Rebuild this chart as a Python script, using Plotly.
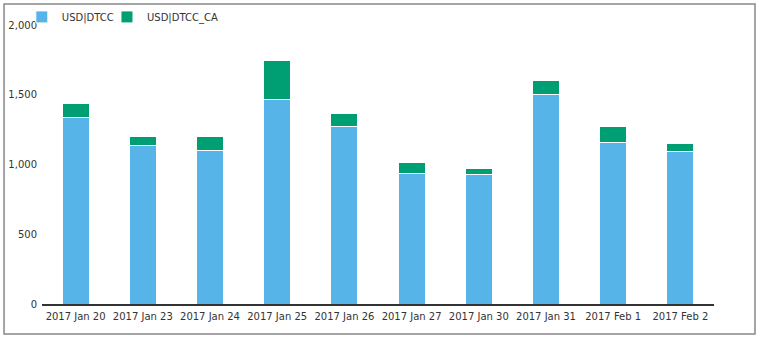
import plotly.graph_objects as go

categories = ["2017 Jan 20", "2017 Jan 23", "2017 Jan 24", "2017 Jan 25", "2017 Jan 26",
              "2017 Jan 27", "2017 Jan 30", "2017 Jan 31", "2017 Feb 1", "2017 Feb 2"]
usd_dtcc = [1335, 1135, 1099, 1465, 1271, 932, 925, 1500, 1159, 1095]
usd_dtcc_ca = [99, 69, 105, 277, 98, 79, 43, 99, 110, 59]
y_ticks = [0, 500, 1000, 1500, 2000]

font = dict(family="DejaVu Sans, Verdana, sans-serif", size=10, color="#333333")

fig = go.Figure()
fig.add_trace(go.Bar(name="USD|DTCC", x=categories, y=usd_dtcc, legend="legend",
                     marker=dict(color="#56B4E9", line=dict(color="white", width=1))))
fig.add_trace(go.Bar(name="USD|DTCC_CA", x=categories, y=usd_dtcc_ca, legend="legend2",
                     marker=dict(color="#009E73", line=dict(color="white", width=1))))

leg_common = dict(orientation="h", xanchor="left", y=0.977, yanchor="bottom",
                  font=font, itemwidth=30, bgcolor="rgba(0,0,0,0)")

fig.update_layout(
    barmode="stack",
    bargap=0.6,
    width=760, height=339,
    margin=dict(l=42, r=46, t=25, b=35, autoexpand=False),
    paper_bgcolor="white", plot_bgcolor="white",
    font=font,
    showlegend=True,
    legend=dict(x=-0.03, **leg_common),
    legend2=dict(x=0.0967, **leg_common),
    xaxis=dict(showgrid=False, showline=True, linecolor="#333333", linewidth=1.5,
               ticks="", tickfont=font, ticklabelstandoff=2),
    yaxis=dict(showgrid=False, showline=False, zeroline=False, range=[0, 2000],
               tickvals=y_ticks, tickformat=",", ticks="", tickfont=font, ticklabelstandoff=4),
    shapes=[dict(type="rect", xref="paper", yref="paper",
                 x0=-0.0565, x1=1.061, y0=-0.1075, y1=1.075,
                 line=dict(color="#888888", width=1.5), fillcolor="rgba(0,0,0,0)")],
)

fig.write_html("out.html")
